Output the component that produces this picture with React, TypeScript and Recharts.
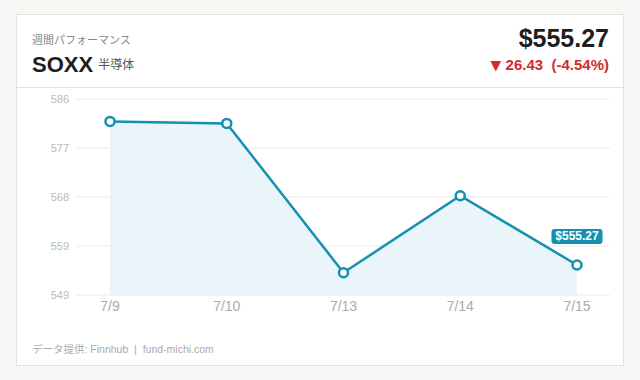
import React from 'react'
import { AreaChart, Area, CartesianGrid, XAxis, YAxis } from 'recharts'

const days = ['7/9', '7/10', '7/13', '7/14', '7/15']
const closes = [581.7, 581.33, 553.85, 568.02, 555.27]
const yTicks = [549.74, 558.76, 567.78, 576.8, 585.82]
const yTickLabels = ['549', '559', '568', '577', '586']

const data = days.map((day, i) => ({ day, close: closes[i] }))

const LINE = '#1590b0'
const FONT = '"Liberation Sans", Arial, "Noto Sans CJK JP", sans-serif'

const LastLabel = (props: any) => {
  const { x, y, index, value } = props
  if (index !== closes.length - 1) return null
  const w = 51
  const h = 15
  return (
    <g>
      <rect x={x - w / 2} y={y - 36} width={w} height={h} rx={3} fill={LINE} />
      <text x={x} y={y - 24.5} textAnchor="middle" fill="#fff" fontSize={12} fontWeight={700} fontFamily={FONT}>
        ${value.toFixed(2)}
      </text>
    </g>
  )
}

export default function App() {
  return (
    <div style={{ position: 'absolute', left: 0, top: 0, width: 640, height: 380, background: '#f7f7f5', fontFamily: FONT }}>
      <div
        style={{
          position: 'absolute',
          left: 16,
          top: 14,
          width: 608,
          height: 352,
          boxSizing: 'border-box',
          background: '#fff',
          border: '1px solid #e3e3de',
        }}
      >
        <div style={{ position: 'absolute', left: 0, top: 0, width: 606, height: 72, borderBottom: '1px solid #e3e3de' }}>
          <div style={{ position: 'absolute', left: 15, top: 16, fontSize: 11, color: '#888' }}>週間パフォーマンス</div>
          <div style={{ position: 'absolute', left: 15, top: 37, whiteSpace: 'nowrap' }}>
            <span style={{ fontSize: 22, fontWeight: 700, color: '#1e1e1e' }}>SOXX</span>
            <span style={{ fontSize: 12, color: '#555', marginLeft: 5, position: 'relative', top: -3 }}>半導体</span>
          </div>
          <div style={{ position: 'absolute', right: 14, top: 9, fontSize: 25, fontWeight: 700, color: '#1e1e1e' }}>$555.27</div>
          <div style={{ position: 'absolute', right: 14, top: 41, fontSize: 15, fontWeight: 700, color: '#d42a2a', whiteSpace: 'pre' }}>
            <span style={{ fontSize: 19, lineHeight: '15px', position: 'relative', top: 1 }}>▾</span> 26.43  (-4.54%)
          </div>
        </div>
        <div style={{ position: 'absolute', left: 0, top: 72 }}>
          <AreaChart width={606} height={238} data={data} margin={{ top: 12, right: 13, bottom: 0, left: 0 }}>
            <CartesianGrid vertical={false} stroke="#ebebeb" />
            <XAxis
              dataKey="day"
              axisLine={false}
              tickLine={false}
              tickMargin={0}
              height={30}
              padding={{ left: 34, right: 33 }}
              tick={{ fill: '#aaa', fontSize: 14, fontFamily: FONT }}
            />
            <YAxis
              domain={[yTicks[0], yTicks[yTicks.length - 1]]}
              ticks={yTicks}
              tickFormatter={(v: number) => yTickLabels[yTicks.indexOf(v)]}
              axisLine={false}
              tickLine={false}
              tickMargin={1}
              width={59}
              tick={{ fill: '#bbb', fontSize: 11, fontFamily: FONT }}
            />
            <Area
              type="linear"
              dataKey="close"
              stroke={LINE}
              strokeWidth={2.5}
              fill="#e9f5f8"
              fillOpacity={1}
              dot={{ r: 4.5, fill: '#fff', stroke: LINE, strokeWidth: 2.5 }}
              activeDot={false}
              label={<LastLabel />}
              isAnimationActive={false}
            />
          </AreaChart>
        </div>
        <div style={{ position: 'absolute', left: 15, top: 326, fontSize: 10.5, color: '#aaa', whiteSpace: 'pre' }}>
          データ提供: Finnhub  |  fund-michi.com
        </div>
      </div>
    </div>
  )
}
